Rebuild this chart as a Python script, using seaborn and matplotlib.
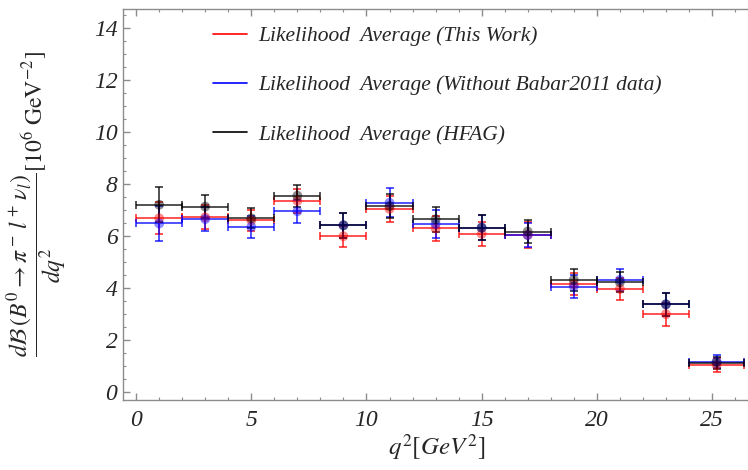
#!/usr/bin/env python
"""
  B0 -> pi- l+ nu differential branching fraction, likelihood averages
"""

import matplotlib

matplotlib.use("Agg")
import matplotlib.pyplot as plt
from matplotlib.lines import Line2D
import numpy as np
import pandas as pd
import seaborn as sns

# q2 bins [GeV^2]
BIN_LO = [0, 2, 4, 6, 8, 10, 12, 14, 16, 18, 20, 22, 24]
BIN_HI = [2, 4, 6, 8, 10, 12, 14, 16, 18, 20, 22, 24, 26.4]
Q2 = [1, 3, 5, 7, 9, 11, 13, 15, 17, 19, 21, 23, 25.2]

# dB/dq2 values and errors
THIS_WORK = [6.68, 6.72, 6.60, 7.35, 5.99, 7.04, 6.29, 6.08, 6.04, 4.14, 3.96, 2.99, 1.03]
THIS_WORK_ERR = [0.62, 0.46, 0.40, 0.45, 0.41, 0.50, 0.47, 0.46, 0.49, 0.42, 0.42, 0.45, 0.27]
NO_BABAR = [6.48, 6.65, 6.35, 6.95, 6.41, 7.28, 6.46, 6.32, 6.03, 4.05, 4.31, 3.37, 1.17]
NO_BABAR_ERR = [0.66, 0.46, 0.42, 0.44, 0.47, 0.55, 0.53, 0.47, 0.47, 0.45, 0.41, 0.44, 0.26]
HFAG = [7.20, 7.13, 6.68, 7.55, 6.41, 7.15, 6.64, 6.32, 6.17, 4.31, 4.22, 3.37, 1.13]
HFAG_ERR = [0.68, 0.45, 0.39, 0.42, 0.47, 0.46, 0.48, 0.47, 0.43, 0.42, 0.39, 0.44, 0.23]

LABELS = [
    "Likelihood  Average (This Work)",
    "Likelihood  Average (Without Babar2011 data)",
    "Likelihood  Average (HFAG)",
]
COLORS = ["#ff0000", "#0000ff", "#000000"]
X_TICKS = [0, 5, 10, 15, 20, 25]
Y_TICKS = [0, 2, 4, 6, 8, 10, 12, 14]


def make_frame():
    rows = []
    series = [(THIS_WORK, THIS_WORK_ERR), (NO_BABAR, NO_BABAR_ERR), (HFAG, HFAG_ERR)]
    for label, (vals, errs) in zip(LABELS, series):
        for lo, hi, q, v, e in zip(BIN_LO, BIN_HI, Q2, vals, errs):
            rows.append(dict(series=label, q2=q, lo=lo, hi=hi, value=v, err=e))
    return pd.DataFrame(rows)


def main():
    sns.set_style("ticks")
    plt.rcParams["font.family"] = ["Liberation Serif", "DejaVu Serif"]
    plt.rcParams["mathtext.fontset"] = "stix"

    frame = make_frame()
    fig = plt.figure(figsize=(7.48, 4.70), dpi=100)
    ax = fig.add_axes([123 / 748, 70 / 470, 627 / 748, 391 / 470])

    # error crosses, red then blue then black on top
    for label, color in zip(LABELS, COLORS):
        sub = frame[frame["series"] == label]
        x = sub["q2"].to_numpy()
        ax.errorbar(
            x, sub["value"], yerr=sub["err"],
            xerr=[x - sub["lo"].to_numpy(), sub["hi"].to_numpy() - x],
            fmt="none", ecolor=color, elinewidth=1.2, capsize=3,
            capthick=1.2, alpha=0.8,
        )

    sns.scatterplot(
        data=frame, x="q2", y="value", hue="series",
        palette=dict(zip(LABELS, COLORS)), s=50, alpha=0.45,
        edgecolor="none", legend=False, ax=ax, zorder=3,
    )

    ax.set_xlim(-0.57, 26.65)
    ax.set_ylim(-0.31, 14.73)
    ax.set_xticks(X_TICKS, [str(t) for t in X_TICKS], fontstyle="italic", fontsize=17)
    ax.set_yticks(Y_TICKS, [str(t) for t in Y_TICKS], fontstyle="italic", fontsize=17)
    ax.set_xticks(np.arange(0, 27, 1), minor=True)
    ax.set_yticks(np.arange(0, 14.6, 0.5), minor=True)
    ax.tick_params(which="both", direction="in", top=True, right=False, color="0.55")
    ax.tick_params(which="major", length=5, width=1)
    ax.tick_params(which="minor", length=2.5, width=0.8)
    ax.tick_params(axis="x", pad=7)
    ax.tick_params(axis="y", pad=4)
    for side in ax.spines.values():
        side.set_color("0.55")
        side.set_linewidth(1)

    ax.set_xlabel(r"$q^2[GeV^2]$", fontsize=18, labelpad=1)
    ax.set_ylabel(
        r"$\dfrac{d\mathcal{B}\,\left(B^0\rightarrow\pi^-\,l^+\,\nu_l\right)}{dq^2}"
        r"[10^6\ \mathrm{GeV}^{-2}]$",
        fontsize=17,
    )
    ax.yaxis.set_label_coords(-0.088, 0.5)

    handles = [Line2D([0], [0], color=c, lw=1.2) for c in COLORS]
    ax.legend(
        handles, LABELS, loc="upper left", bbox_to_anchor=(0.144, 0.956),
        frameon=False, borderpad=0, borderaxespad=0, handlelength=1.55,
        handletextpad=0.55, labelspacing=1.35,
        prop=dict(family="Liberation Serif", style="italic", size=15.5),
    )

    fig.savefig("out.png", dpi=100)


if __name__ == "__main__":
    main()
